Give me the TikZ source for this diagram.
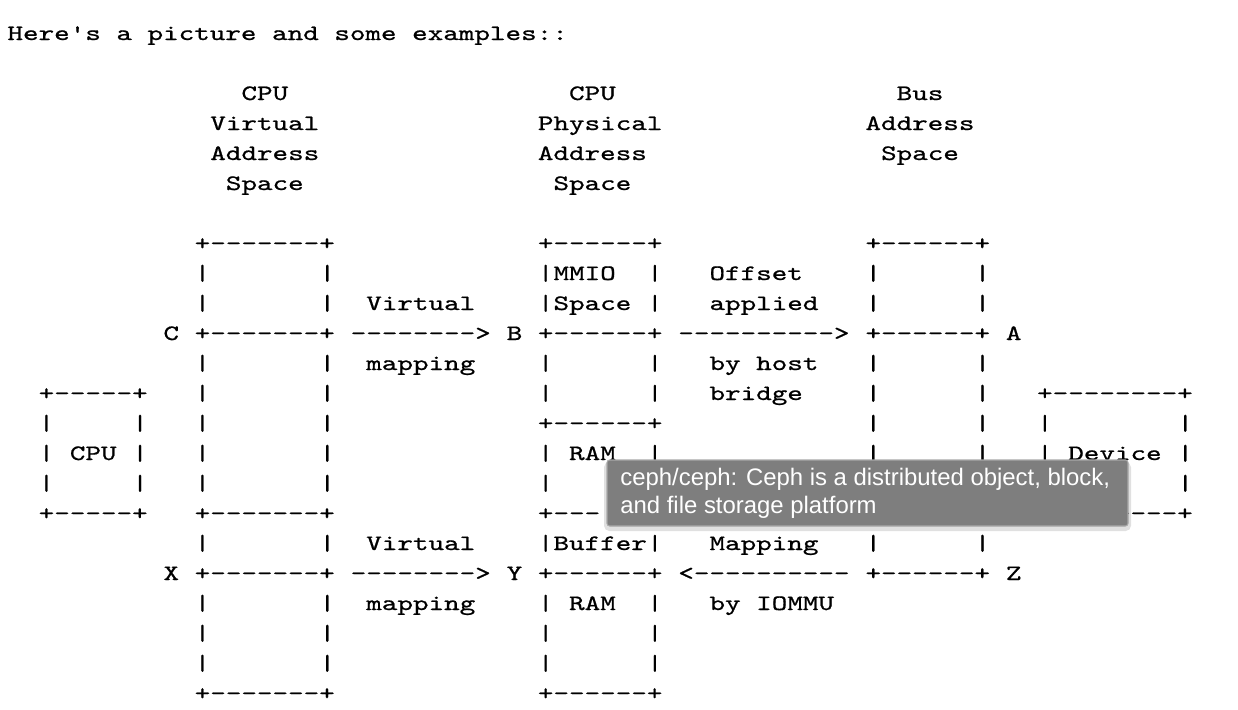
\documentclass[tikz,border=0pt]{standalone}
\usepackage{fontspec}
\newfontfamily\asciifont[FakeStretch=1.35,FakeBold=0.8,Ligatures=TeXOff]{lmmono10-regular.otf}
\newfontfamily\tipfont{Liberation Sans}
\definecolor{tipgray}{RGB}{126,126,126}
\definecolor{tipedge}{RGB}{168,168,168}
\def\cw{15.6} % character width
\def\lh{30} % line height
\def\xo{7.5} % left edge of column 0
\def\yo{100} % baseline of line 0
\newcommand\Ascii[3]{% column, line, text
  \node[ascii] (a-#2-#1) at ({\xo+#1*\cw},{\yo+#2*\lh}) {#3};%
}
\tikzset{%
  ascii/.style={anchor=base west,inner sep=0pt,outer sep=0pt,
    font=\asciifont\fontsize{12.5pt}{15pt}\selectfont},%
  tipbox/.style={fill=tipgray,draw=tipedge,line width=0.6pt,
    rounded corners=1.5pt},%
  tiptext/.style={anchor=base west,inner sep=0pt,text=white,
    font=\tipfont\fontsize{13.6pt}{16pt}\selectfont}%
}
\begin{document}
\begin{tikzpicture}[x=0.02cm,y=-0.02cm]
\useasboundingbox (0,0) rectangle (1238,710);

%% intro line

\Ascii{0}{-2}{Here's a picture and some examples::}

%% column headings

\Ascii{15}{0}{CPU}     \Ascii{36}{0}{CPU}      \Ascii{57}{0}{Bus}
\Ascii{13}{1}{Virtual} \Ascii{34}{1}{Physical} \Ascii{55}{1}{Address}
\Ascii{13}{2}{Address} \Ascii{34}{2}{Address}  \Ascii{56}{2}{Space}
\Ascii{14}{3}{Space}   \Ascii{35}{3}{Space}

%% box edges (lines 13 and 14 are partly hidden under the tooltip)

\foreach \r in {5,8,14,16,20} {\Ascii{12}{\r}{+-------+}}
\foreach \r in {5,8,11,16,20} {\Ascii{34}{\r}{+------+}}
\Ascii{34}{14}{+---}
\foreach \r in {5,8,16} {\Ascii{55}{\r}{+------+}}
\foreach \r in {10,14} {\Ascii{2}{\r}{+-----+} \Ascii{66}{\r}{+--------+}}

%% box walls

\foreach \r in {6,7,9,10,11,12,13,15,17,18,19} {\Ascii{12}{\r}{|} \Ascii{20}{\r}{|}}
\foreach \r in {6,7,9,10,12,13,15,17,18,19} {\Ascii{34}{\r}{|}}
\foreach \r in {6,7,9,10,12,15,17,18,19} {\Ascii{41}{\r}{|}}
\foreach \r in {6,7,9,10,11,12,15} {\Ascii{55}{\r}{|} \Ascii{62}{\r}{|}}
\foreach \r in {11,12,13} {\Ascii{2}{\r}{|} \Ascii{8}{\r}{|} \Ascii{75}{\r}{|}}
\foreach \r in {11,12} {\Ascii{66}{\r}{|}}

%% box contents

\Ascii{35}{6}{MMIO} \Ascii{35}{7}{Space} \Ascii{35}{15}{Buffer}
\Ascii{36}{12}{RAM} \Ascii{36}{17}{RAM}
\Ascii{4}{12}{CPU}  \Ascii{68}{12}{Device}

%% mappings between the spaces

\Ascii{23}{7}{Virtual}  \Ascii{23}{9}{mapping}
\Ascii{23}{15}{Virtual} \Ascii{23}{17}{mapping}
\Ascii{45}{6}{Offset}   \Ascii{45}{7}{applied}
\Ascii{45}{9}{by host}  \Ascii{45}{10}{bridge}
\Ascii{45}{15}{Mapping} \Ascii{45}{17}{by IOMMU}
\Ascii{10}{8}{C}  \Ascii{22}{8}{-------->}  \Ascii{32}{8}{B}
\Ascii{43}{8}{---------->}  \Ascii{64}{8}{A}
\Ascii{10}{16}{X} \Ascii{22}{16}{-------->} \Ascii{32}{16}{Y}
\Ascii{43}{16}{<----------} \Ascii{64}{16}{Z}

%% tooltip on top

\fill[black,opacity=0.12,rounded corners=3pt] (604,462) rectangle (1131,531);
\draw[tipbox] (607,460) rectangle (1128,526);
\node[tiptext] (tip1) at (620,485) {ceph/ceph: Ceph is a distributed object, block,};
\node[tiptext] (tip2) at (620,513) {and file storage platform};
\end{tikzpicture}
\end{document}
